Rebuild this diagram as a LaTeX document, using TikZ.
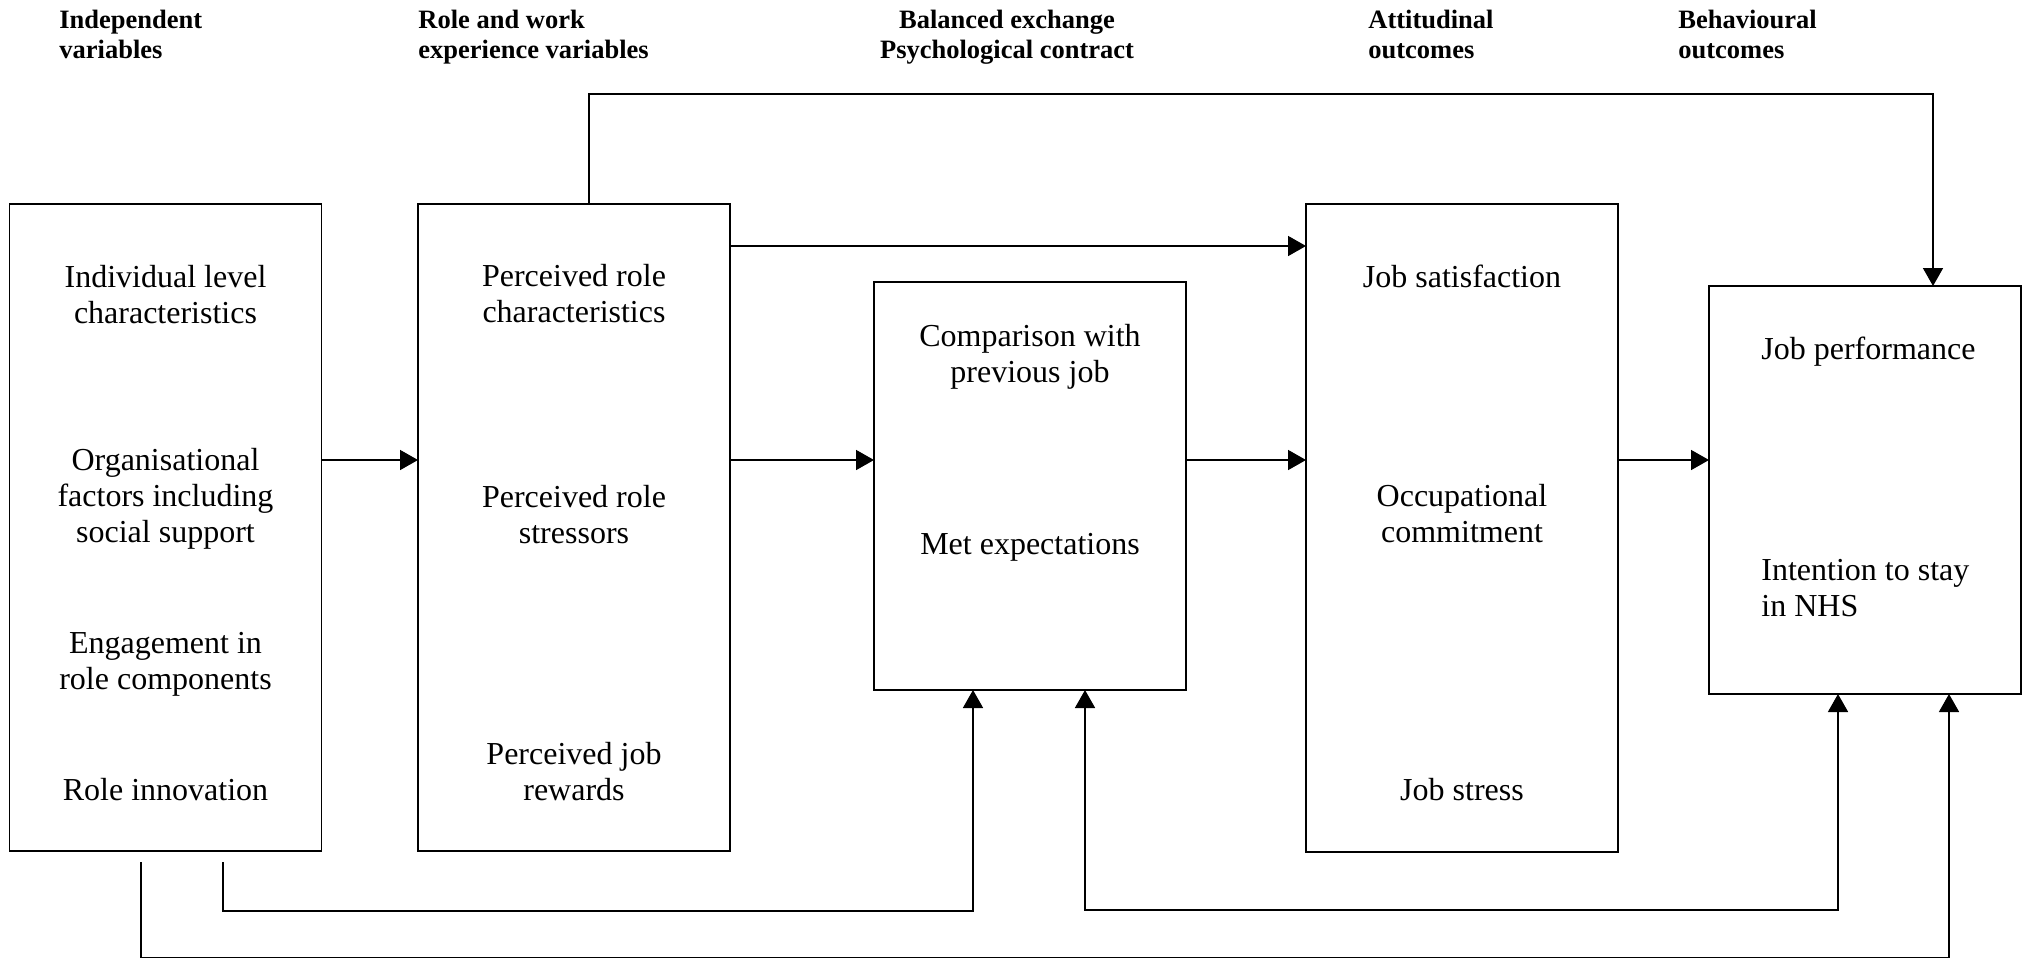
\documentclass[tikz,border=0pt]{standalone}
\usepackage{fontspec}
\setmainfont{Liberation Serif}
\usetikzlibrary{arrows.meta}
\begin{document}
\begin{tikzpicture}[x=0.5pt,y=-0.5pt,
  box/.style={draw, line width=0.8pt, rectangle, inner sep=0pt, outer sep=0pt, minimum width=156pt},
  txt/.style={inner sep=0pt, align=center, font=\fontsize{16}{18}\selectfont},
  hdr/.style={inner sep=0pt, align=left, anchor=base west, font=\fontsize{13.25}{15}\selectfont\bfseries},
  conn/.style={line width=0.8pt},
  arr/.style={conn, -{Triangle[length=9pt,width=10pt]}},
  arrtwo/.style={conn, {Triangle[length=9pt,width=10pt]}-{Triangle[length=9pt,width=10pt]}}]
\useasboundingbox[fill=white] (0,0) rectangle (2029,959);

% headers (base anchor = baseline of the last line)
\node[hdr] (h1) at (59,58) {Independent\\variables};
\node[hdr] (h2) at (418,58) {Role and work\\experience variables};
\node[hdr, align=center, anchor=base] (h3) at (1007,58) {Balanced exchange\\Psychological contract};
\node[hdr] (h4) at (1368,58) {Attitudinal\\outcomes};
\node[hdr] (h5) at (1678,58) {Behavioural\\outcomes};

% boxes
\node[box, minimum height=323.5pt] (b1) at (165.5,527.5) {};
\node[box, minimum height=323.5pt] (b2) at (574,527.5) {};
\node[box, minimum height=204pt] (b3) at (1030,486) {};
\node[box, minimum height=324pt] (b4) at (1462,528) {};
\node[box, minimum height=204pt] (b5) at (1865,490) {};

% texts
\node[txt] (t11) at (165.5,295) {Individual level\\characteristics};
\node[txt] (t12) at (165.5,499) {Organisational\\factors including\\social support};
\node[txt] (t13) at (165.5,664) {Engagement in\\role components};
\node[txt] (t14) at (165.5,790) {Role innovation};
\node[txt] (t21) at (574,294) {Perceived role\\characteristics};
\node[txt] (t22) at (574,515) {Perceived role\\stressors};
\node[txt] (t23) at (574,772) {Perceived job\\rewards};
\node[txt] (t31) at (1030,357) {Comparison with\\previous job};
\node[txt] (t32) at (1030,547) {Met expectations};
\node[txt] (t41) at (1462,276) {Job satisfaction};
\node[txt] (t42) at (1462,514) {Occupational\\commitment};
\node[txt] (t43) at (1462,790) {Job stress};
\node[txt, anchor=west, align=left] (t51) at (1761,352) {Job performance};
\node[txt, anchor=west, align=left] (t52) at (1761,588) {Intention to stay\\in NHS};

% helper coordinates
\coordinate (m) at (0,460);
\coordinate (u) at (0,246);
\coordinate (ta) at (589,94);
\coordinate (tb) at (1933,94);
\coordinate (p1) at (223,862);
\coordinate (p2) at (973,911);
\coordinate (q1) at (1085,910);
\coordinate (q2) at (1838,910);
\coordinate (r1) at (141,862);
\coordinate (r2) at (1949,957.5);

% connectors
\draw[arr] (b1.east |- m) -- (b2.west |- m);
\draw[arr] (b2.east |- m) -- (b3.west |- m);
\draw[arr] (b3.east |- m) -- (b4.west |- m);
\draw[arr] (b4.east |- m) -- (b5.west |- m);
\draw[arr] (b2.east |- u) -- (b4.west |- u);
\draw[arr] (b2.north -| ta) -- (ta) -- (tb) -- (tb |- b5.north);
\draw[arr] (p1) |- (p2) -- (p2 |- b3.south);
\draw[arrtwo] (q1 |- b3.south) -- (q1) -- (q2) -- (q2 |- b5.south);
\draw[arr] (r1) |- (r2) -- (r2 |- b5.south);
\end{tikzpicture}
\end{document}
